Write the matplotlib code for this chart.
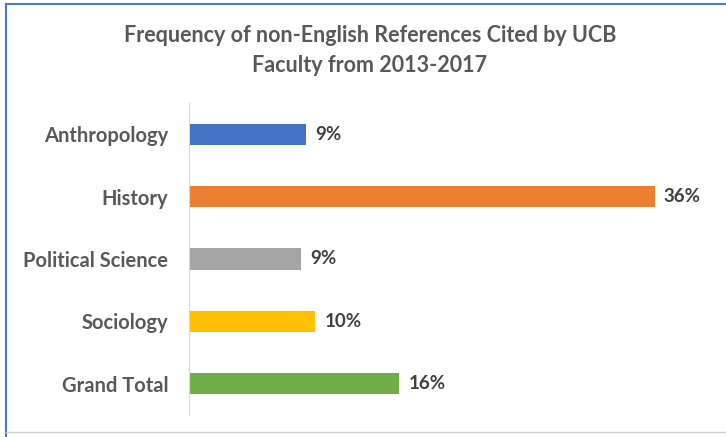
import matplotlib.pyplot as plt
from matplotlib.lines import Line2D

# Data
categories = ['Anthropology', 'History', 'Political Science', 'Sociology', 'Grand Total']
values = [0.091, 0.361, 0.087, 0.098, 0.163]
labels = ['9%', '36%', '9%', '10%', '16%']
colors = ['#4472C4', '#ED7D31', '#A5A5A5', '#FFC000', '#70AD47']

plt.rcParams['font.family'] = ['Lato', 'DejaVu Sans']

fig = plt.figure(figsize=(7.26, 4.37), dpi=100)
fig.patch.set_facecolor('white')

# Chart area
ax = fig.add_axes([189 / 726, 1 - 415 / 437, 511 / 726, 312 / 437])
ax.barh(range(len(categories)), values, height=0.34, color=colors)
ax.set_ylim(4.5, -0.5)
ax.set_xlim(0, 0.396)

# Value labels
for i, (v, lab) in enumerate(zip(values, labels)):
    ax.text(v + 0.007, i, lab, va='center', ha='left', fontsize=13.5,
            fontweight='bold', color='#404040')

ax.set_yticks(range(len(categories)))
ax.set_yticklabels(categories, fontsize=14.5, fontweight='bold', color='#595959')
ax.set_xticks([])
ax.tick_params(axis='y', length=0, pad=15)

for side in ['top', 'right', 'bottom']:
    ax.spines[side].set_visible(False)
ax.spines['left'].set_color('#D9D9D9')

# Title
fig.text(370 / 726, 1 - 35 / 437, 'Frequency of non-English References Cited by UCB',
         ha='center', va='center', fontsize=15.5, fontweight='bold', color='#595959')
fig.text(370 / 726, 1 - 65 / 437, 'Faculty from 2013-2017',
         ha='center', va='center', fontsize=15.5, fontweight='bold', color='#595959')

# Frame borders
fig.add_artist(Line2D([6 / 726, 6 / 726], [0, 1 - 4 / 437], color='#4A7CC4', lw=1.5))
fig.add_artist(Line2D([6 / 726, 1], [1 - 4 / 437, 1 - 4 / 437], color='#4A7CC4', lw=1.5))
fig.add_artist(Line2D([6 / 726, 1], [1 - 432 / 437, 1 - 432 / 437], color='#D0D0D0', lw=1))

fig.savefig('out.png', dpi=100)
